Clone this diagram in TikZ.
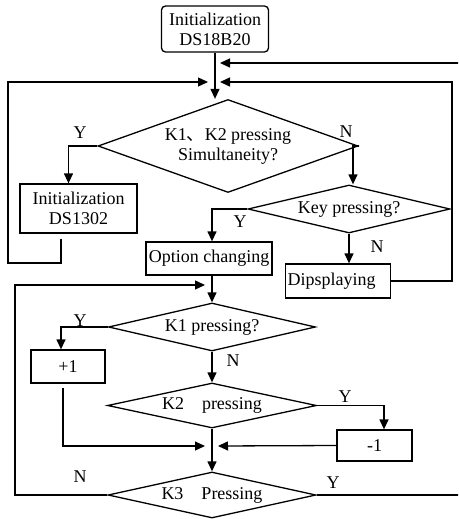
\documentclass[tikz,border=0pt]{standalone}
\usepackage{fontspec}
\setmainfont{Liberation Serif}
\newfontfamily\cjk{Noto Sans CJK SC}
\usetikzlibrary{shapes.geometric,arrows.meta}

\begin{document}
\begin{tikzpicture}[
        x=1pt, y=-1pt,
        font=\fontsize{18}{20}\selectfont,
        line width=1.3pt,
        flow/.style={-{Triangle[length=10pt,width=9pt]}},
        box/.style={draw,rectangle,inner sep=2pt,align=center},
        start/.style={box,rounded corners=4pt},
        decide/.style={draw,diamond,inner sep=0pt,align=center},
        yn/.style={inner sep=0pt},
        ]
    \useasboundingbox (0,0) rectangle (458,519);
    \clip (0,0) rectangle (458,519);

    % blocks
    \node (init) [start, minimum width=107, minimum height=46] at (215,29) {Initialization\\DS18B20};
    \node (simul) [decide, aspect=2.8, minimum width=260, minimum height=93] at (228,146) {K1{\cjk 、}K2 pressing\\Simultaneity?};
    \node (ds) [box, minimum width=117, minimum height=49] at (78.5,208.5) {Initialization\\DS1302};
    \node (key) [decide, aspect=4.2, minimum width=202, minimum height=48] at (349,209) {Key pressing?};
    \node (opt) [box, minimum width=126, minimum height=33] at (209,258.5) {Option changing};
    \node (disp) [box, align=left, text width=101, minimum height=34] at (338,281) {Dipsplaying};
    \node (k1) [decide, aspect=4.3, minimum width=207, minimum height=48] at (212,327) {K1 pressing?};
    \node (plus) [box, minimum width=74, minimum height=33] at (68,366.5) {+1};
    \node (k2) [decide, aspect=4.6, minimum width=209, minimum height=45] at (212,405.5) {K2\quad pressing};
    \node (minus) [box, minimum width=75, minimum height=31] at (374.5,445.5) {-1};
    \node (k3) [decide, aspect=4.5, minimum width=208, minimum height=46] at (212,495) {K3\quad Pressing};

    % junction points and corners
    \coordinate (jtop) at (220,63);
    \coordinate (jr) at (220,82);
    \coordinate (jl) at (208,82);
    \coordinate (jmid) at (205,285);
    \coordinate (jbl) at (205,446);
    \coordinate (jbr) at (218,446);
    \coordinate (lbot) at (8,263);
    \coordinate (ltop) at (8,82);
    \coordinate (rtop) at (452,82);
    \coordinate (mleft) at (15,285);
    \coordinate (farright) at (466,63);

    % main flow
    \draw[flow] (init.south) -- (init.south |- simul.north);
    \draw[flow] (simul.west) -| ([xshift=-10pt]ds.north);
    \draw[flow] (simul.east) -| ([xshift=4pt]key.north);
    \draw[flow] (key.west) -| ([xshift=3pt]opt.north);
    \draw[flow] (key.south) -- (key.south |- disp.north);
    \draw[flow] (opt.south -| k1.north) -- (k1.north);
    \draw[flow] (k1.west) -| ([xshift=-7pt]plus.north);
    \draw[flow] (k1.south) -- (k2.north);
    \draw[flow] (k2.east) -| ([xshift=9.5pt]minus.north);
    \draw[flow] (k2.south) -- (k3.north);

    % returns
    \draw[flow] ([xshift=-17.5pt,yshift=-5pt]ds.south) |- (lbot) -- (ltop) -- (jl);
    \draw[flow] (disp.east) -| (rtop) -- (jr);
    \draw[flow] (minus.west) -- (jbr);
    \draw[flow] ([xshift=-5pt,yshift=-4pt]plus.south) |- (jbl);
    \draw[flow] (k3.west) -| (mleft) -- (jmid);
    \draw[flow] (k3.east) -| (farright) -- (jtop);

    % branch labels
    \node (y1) [yn] at (80,133) {Y};
    \node (n1) [yn] at (346,132) {N};
    \node (y2) [yn] at (240,222) {Y};
    \node (n2) [yn] at (377,247) {N};
    \node (y3) [yn] at (80,321) {Y};
    \node (n3) [yn] at (233,361) {N};
    \node (y4) [yn] at (345,397) {Y};
    \node (n4) [yn] at (80,477) {N};
    \node (y5) [yn] at (333,483) {Y};
\end{tikzpicture}
\end{document}
